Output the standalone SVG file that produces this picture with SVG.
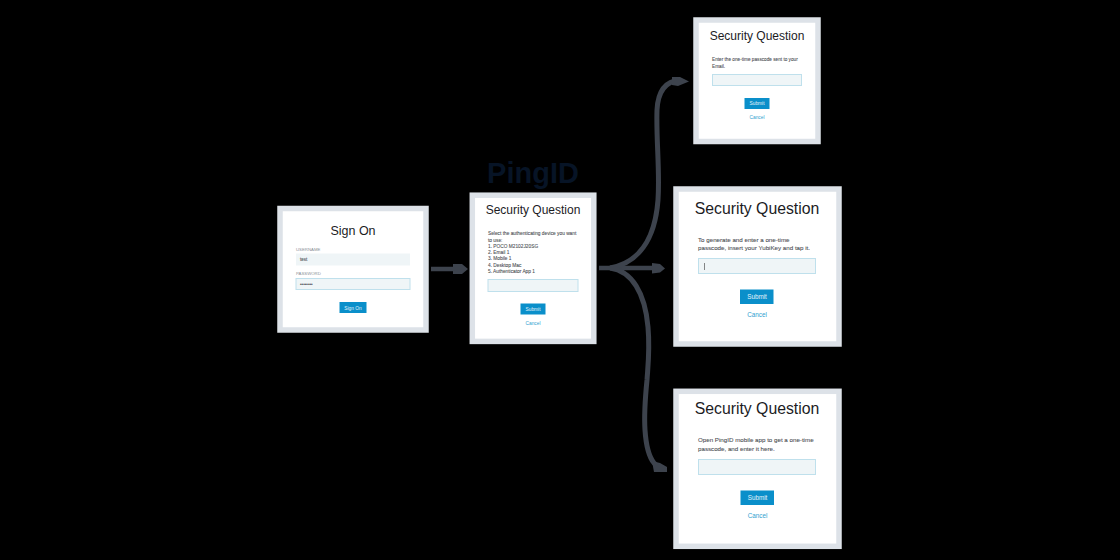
<svg xmlns="http://www.w3.org/2000/svg" width="1120" height="560" viewBox="0 0 1120 560">
<defs><style>
text{font-family:"Liberation Sans",Arial,sans-serif}
.card{fill:#fff;stroke:#dde2e8;stroke-width:5.5}
.t{fill:#1c1c1f;text-anchor:middle}
.b{fill:#4a4d52;stroke:#4a4d52;stroke-width:.08}
.f{fill:#eff5f7;stroke:#bfe0ec}
.btn{fill:#0a8fca}
.bt{fill:#e4f3fa;text-anchor:middle}
.c{fill:#2f9fd0;text-anchor:middle}
.l{fill:#8a9096}
.w{fill:none;stroke:#3d434d;stroke-linecap:butt}
.h{fill:#3d434d}
</style></defs>
<rect width="1120" height="560" fill="#000"/>
<g id="connectors">
<path class="w" stroke-width="4.500" d="M431 269H458"/><path class="h" d="M453 264L462 264L468 269L462 274L453 274Z"/>
<path class="w" stroke-width="4.500" d="M599 268H655"/><path class="h" d="M652 263L660 264L665 268.500L660 272.500L652 273.500Z"/>
<path class="w" stroke-width="5" d="M610 268C638 263 655 240 658 200C660 170 656 140 657 110C658 90 667 81 680 80"/>
<path class="h" d="M672 77L680 77L689 81.500L678 86L672 85Z"/>
<path class="w" stroke-width="5" d="M610 268C632 271 645 293 648 327C650 350 648 365 647 380C645 400 644 415 645 430C646 445 649 457 654 463C657 467 661 468 664 468"/>
<path class="h" d="M652 461L660 463L667 467L667 472L654 472Z"/>
</g>
<g id="pingid-title"><text x="533" y="183" text-anchor="middle" font-size="29" font-weight="700" fill="#071426">PingID</text></g>
<g id="sign-on">
<rect class="card" x="280" y="208.500" width="146" height="121.500"/>
<text class="t" x="353" y="234.500" font-size="12.500">Sign On</text>
<text class="l" x="296" y="250.500" font-size="4.300">USERNAME</text>
<rect x="296" y="253.500" width="114" height="12" fill="#eff5f7"/>
<text class="b" x="300" y="261" font-size="4.500">test</text>
<text class="l" x="296" y="275" font-size="4.300">PASSWORD</text>
<rect class="f" x="296" y="278.500" width="114" height="11"/>
<text class="b" x="300" y="286" font-size="4.500">••••••••</text>
<rect class="btn" x="339.500" y="302" width="27" height="11"/>
<text class="bt" x="353" y="309.500" font-size="4.800">Sign On</text>
</g>
<g id="device-select">
<rect class="card" x="472.300" y="195.200" width="121.500" height="146.200"/>
<text class="t" x="533" y="214" font-size="12">Security Question</text>
<text class="b" font-size="4.800"><tspan x="488" y="235.400">Select the authenticating device you want</tspan><tspan x="488" y="241.700">to use:</tspan><tspan x="488" y="247.800">1. POCO M2102J20SG</tspan><tspan x="488" y="254">2. Email 1</tspan><tspan x="488" y="260.300">3. Mobile 1</tspan><tspan x="488" y="266.500">4. Desktop Mac</tspan><tspan x="488" y="272.800">5. Authenticator App 1</tspan></text>
<rect class="f" x="488" y="279.500" width="90" height="12"/>
<rect class="btn" x="520.500" y="303.500" width="25" height="11"/>
<text class="bt" x="533" y="310.500" font-size="4.800">Submit</text>
<text class="c" x="533" y="324.500" font-size="4.800">Cancel</text>
</g>
<g id="email-passcode">
<rect class="card" x="696" y="20" width="122" height="121.500"/>
<text class="t" x="757" y="40" font-size="12">Security Question</text>
<text class="b" font-size="4.700"><tspan x="712" y="61">Enter the one-time passcode sent to your</tspan><tspan x="712" y="67.500">Email.</tspan></text>
<rect class="f" x="712.500" y="74.500" width="89" height="11"/>
<rect class="btn" x="744.500" y="98" width="25" height="11"/>
<text class="bt" x="757" y="105" font-size="4.800">Submit</text>
<text class="c" x="757" y="119" font-size="4.800">Cancel</text>
</g>
<g id="yubikey-passcode">
<rect class="card" x="676" y="189" width="163" height="155"/>
<text class="t" x="757" y="214" font-size="15.800">Security Question</text>
<text class="b" font-size="6.200"><tspan x="698" y="241.500">To generate and enter a one-time</tspan><tspan x="698" y="250">passcode, insert your YubiKey and tap it.</tspan></text>
<rect class="f" x="698.500" y="258.500" width="117" height="15" stroke="#8fcfdf"/>
<path d="M704.500 263V270" stroke="#555" stroke-width=".7"/>
<rect class="btn" x="740" y="289.500" width="33.500" height="14.500"/>
<text class="bt" x="757" y="299" font-size="6.300">Submit</text>
<text class="c" x="757" y="317" font-size="6.300">Cancel</text>
</g>
<g id="mobile-passcode">
<rect class="card" x="676" y="391.300" width="163" height="155"/>
<text class="t" x="757" y="414" font-size="15.800">Security Question</text>
<text class="b" font-size="6.200"><tspan x="698" y="442">Open PingID mobile app to get a one-time</tspan><tspan x="698" y="450.500">passcode, and enter it here.</tspan></text>
<rect class="f" x="698.500" y="459.500" width="117" height="15" stroke="#8fcfdf"/>
<rect class="btn" x="740.500" y="490.500" width="33.500" height="14.500"/>
<text class="bt" x="757.500" y="500" font-size="6.300">Submit</text>
<text class="c" x="757.500" y="518" font-size="6.300">Cancel</text>
</g>
</svg>
